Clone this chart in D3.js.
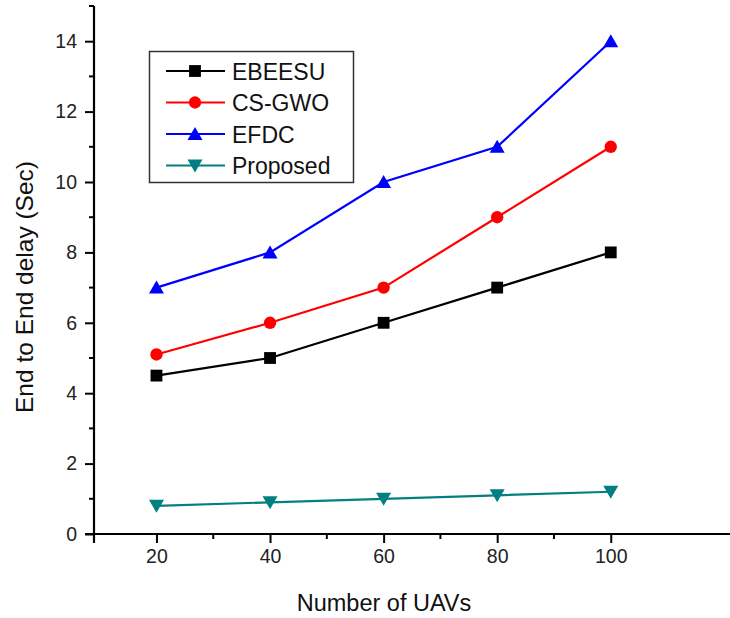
<!DOCTYPE html>
<html>
<head>
<meta charset="utf-8">
<script src="https://cdn.jsdelivr.net/npm/d3@7"></script>
<style>
  body { margin: 0; background: #fff; }
  svg { display: block; font-family: "Liberation Sans", Arial, sans-serif; }
</style>
</head>
<body>
<div id="chart"></div>
<script>
// data
const uavs = [20, 40, 60, 80, 100];
const ebeesu = [4.5, 5, 6, 7, 8];
const csgwo = [5.1, 6, 7, 9, 11];
const efdc = [7, 8, 10, 11, 14];
const proposed = [0.8, 0.9, 1.0, 1.1, 1.2];
const seriesNames = ["EBEESU", "CS-GWO", "EFDC", "Proposed"];
const yTicks = [0, 2, 4, 6, 8, 10, 12, 14];
const xTicks = [20, 40, 60, 80, 100];

const WIDTH = 730, HEIGHT = 618;

const SERIES = [
  { name: seriesNames[0], values: ebeesu, color: "#000000", marker: "square" },
  { name: seriesNames[1], values: csgwo, color: "#ff0000", marker: "circle" },
  { name: seriesNames[2], values: efdc, color: "#0000ff", marker: "up" },
  { name: seriesNames[3], values: proposed, color: "#008080", marker: "down" }
];

const svg = d3.select("#chart").append("svg")
  .attr("width", WIDTH)
  .attr("height", HEIGHT);

const x = d3.scaleLinear().domain([9, 121]).range([94, 730]);
const y = d3.scaleLinear().domain([0, 15]).range([534, 6]);

// MARKER PATHS
function markerPath(type) {
  if (type === "square") return d3.symbol(d3.symbolSquare, 140)();
  if (type === "circle") return d3.symbol(d3.symbolCircle, 120)();
  if (type === "up") return "M0,-7L7.5,6L-7.5,6Z";
  return "M0,7L7.5,-6L-7.5,-6Z";
}

// AXES
const xAxis = svg.append("g")
  .attr("transform", `translate(0,${y(0)})`)
  .call(d3.axisBottom(x).tickValues(xTicks).tickSize(9).tickPadding(6));
xAxis.select(".domain").remove();
xAxis.selectAll(".tick line").attr("stroke", "#000").attr("stroke-width", 2);
xAxis.selectAll(".tick text").attr("fill", "#222").style("font-size", "19.5px");

svg.append("g")
  .attr("transform", `translate(0,${y(0)})`)
  .selectAll("line")
  .data([30, 50, 70, 90])
  .join("line")
  .attr("x1", d => x(d)).attr("x2", d => x(d))
  .attr("y1", 0).attr("y2", 5)
  .attr("stroke", "#000").attr("stroke-width", 2);

const yAxis = svg.append("g")
  .attr("transform", `translate(${x(9)},0)`)
  .call(d3.axisLeft(y).tickValues(yTicks).tickSize(9).tickPadding(8));
yAxis.select(".domain").remove();
yAxis.selectAll(".tick line").attr("stroke", "#000").attr("stroke-width", 2);
yAxis.selectAll(".tick text").attr("fill", "#222").style("font-size", "19.5px");

svg.append("g")
  .attr("transform", `translate(${x(9)},0)`)
  .selectAll("line")
  .data([1, 3, 5, 7, 9, 11, 13, 15])
  .join("line")
  .attr("x1", 0).attr("x2", -5)
  .attr("y1", d => y(d)).attr("y2", d => y(d))
  .attr("stroke", "#000").attr("stroke-width", 2);

// axis lines, a little past the origin like the original
svg.append("line")
  .attr("x1", 85).attr("x2", WIDTH)
  .attr("y1", y(0)).attr("y2", y(0))
  .attr("stroke", "#000").attr("stroke-width", 2.2);
svg.append("line")
  .attr("x1", x(9)).attr("x2", x(9))
  .attr("y1", y(15)).attr("y2", y(0) + 9)
  .attr("stroke", "#000").attr("stroke-width", 2.2);

// titles
svg.append("text")
  .attr("x", 384).attr("y", 611)
  .attr("text-anchor", "middle")
  .style("font-size", "23.5px")
  .attr("fill", "#111")
  .text("Number of UAVs");
svg.append("text")
  .attr("transform", `translate(33,287) rotate(-90)`)
  .attr("text-anchor", "middle")
  .style("font-size", "24.5px")
  .attr("fill", "#111")
  .text("End to End delay (Sec)");

// LINES AND MARKERS
const line = d3.line()
  .x((d, i) => x(uavs[i]))
  .y(d => y(d));

SERIES.forEach(s => {
  svg.append("path")
    .datum(s.values)
    .attr("d", line)
    .attr("fill", "none")
    .attr("stroke", s.color)
    .attr("stroke-width", 2.2);
  svg.append("g").selectAll("path")
    .data(s.values)
    .join("path")
    .attr("transform", (d, i) => `translate(${x(uavs[i])},${y(d)})`)
    .attr("d", markerPath(s.marker))
    .attr("fill", s.color);
});

// LEGEND
const legend = svg.append("g");
legend.append("rect")
  .attr("x", 149.5).attr("y", 51.5)
  .attr("width", 204).attr("height", 131)
  .attr("fill", "#fff")
  .attr("stroke", "#333")
  .attr("stroke-width", 1.5);

const rows = legend.selectAll("g.row")
  .data(SERIES)
  .join("g")
  .attr("class", "row")
  .attr("transform", (d, i) => `translate(0,${71 + i * 31.5})`);
rows.append("line")
  .attr("x1", 166).attr("x2", 225)
  .attr("y1", 0).attr("y2", 0)
  .attr("stroke", d => d.color)
  .attr("stroke-width", 2.2);
rows.append("path")
  .attr("transform", "translate(195,0)")
  .attr("d", d => markerPath(d.marker))
  .attr("fill", d => d.color);
rows.append("text")
  .attr("x", 232).attr("y", 8.5)
  .style("font-size", "23px")
  .attr("fill", "#111")
  .text(d => d.name);
</script>
</body>
</html>
